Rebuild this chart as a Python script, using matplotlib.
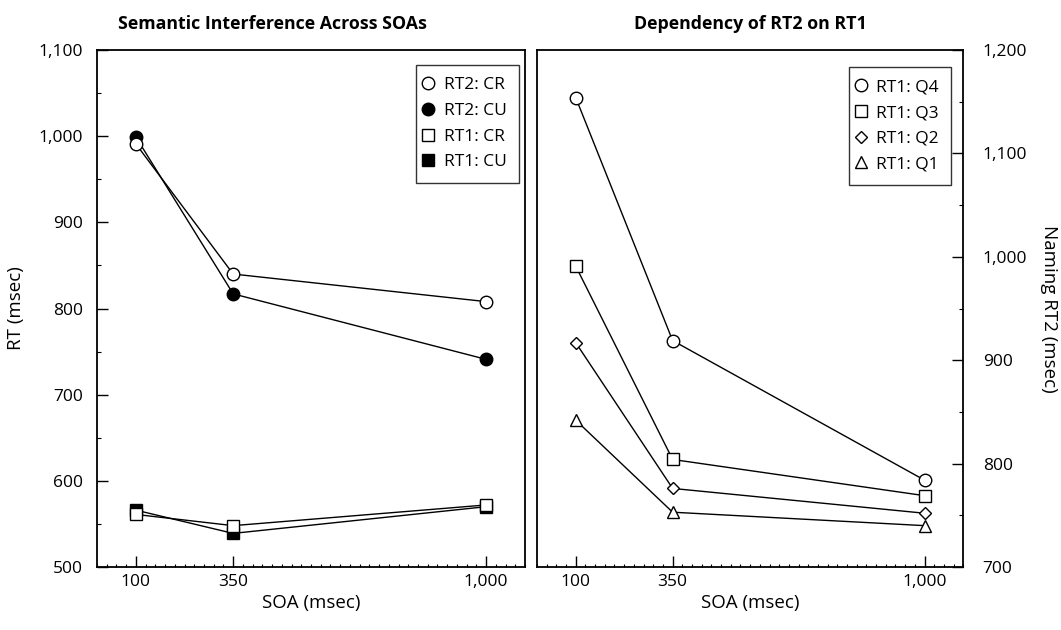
import matplotlib
matplotlib.use("Agg")
import matplotlib.pyplot as plt
from matplotlib.ticker import MultipleLocator, FuncFormatter

plt.rcParams['font.family'] = ['Open Sans', 'DejaVu Sans']

soa = [100, 350, 1000]

# left panel
rt2_cr = [991, 840, 808]
rt2_cu = [999, 817, 741]
rt1_cr = [561, 548, 572]
rt1_cu = [566, 539, 570]

# right panel
q4 = [1154, 919, 784]
q3 = [991, 804, 769]
q2 = [917, 776, 752]
q1 = [842, 753, 740]

comma = FuncFormatter(lambda v, p: f"{int(v):,}")

fig = plt.figure(figsize=(10.61, 6.3), dpi=100)
ax1 = fig.add_axes([0.0914, 0.1, 0.4034, 0.8206])
ax2 = fig.add_axes([0.5061, 0.1, 0.4018, 0.8206])

ms = 9
lw = 1.0
kw = dict(color='black', lw=lw, ms=ms, mec='black', mew=1.0)

ax1.plot(soa, rt2_cr, marker='o', mfc='white', label='RT2: CR', zorder=4, **kw)
ax1.plot(soa, rt2_cu, marker='o', mfc='black', label='RT2: CU', zorder=3, **kw)
ax1.plot(soa, rt1_cu, marker='s', mfc='black', label='RT1: CU', zorder=3, ms=8, color='black', lw=lw, mec='black')
ax1.plot(soa, rt1_cr, marker='s', mfc='white', label='RT1: CR', zorder=4, ms=8, color='black', lw=lw, mec='black')

ax2.plot(soa, q4, marker='o', mfc='white', label='RT1: Q4', **kw)
ax2.plot(soa, q3, marker='s', mfc='white', label='RT1: Q3', color='black', lw=lw, ms=8, mec='black')
ax2.plot(soa, q2, marker='D', mfc='white', label='RT1: Q2', color='black', lw=lw, ms=6.5, mec='black')
ax2.plot(soa, q1, marker='^', mfc='white', label='RT1: Q1', color='black', lw=lw, ms=9, mec='black')

for ax in (ax1, ax2):
    ax.set_xlim(0, 1100)
    ax.set_xticks(soa)
    ax.xaxis.set_major_formatter(comma)
    ax.xaxis.set_minor_locator(MultipleLocator(25))
    ax.yaxis.set_major_formatter(comma)
    ax.yaxis.set_minor_locator(MultipleLocator(50))
    ax.tick_params(which='major', direction='in', length=8, width=1, labelsize=12.5)
    ax.tick_params(which='minor', direction='in', length=3, width=0.8)
    ax.tick_params(axis='x', which='minor', length=2)
    ax.tick_params(axis='x', which='major', pad=5)
    ax.set_xlabel('SOA (msec)', fontsize=13.5, labelpad=3)
    for s in ax.spines.values():
        s.set_linewidth(1.3)

ax1.tick_params(axis='y', which='major', pad=10)
ax2.tick_params(axis='y', which='major', pad=14)

ax1.set_ylim(500, 1100)
ax1.set_yticks(range(500, 1101, 100))
ax1.set_ylabel('RT (msec)', fontsize=13.5, labelpad=10)
fig.text(272 / 1061, 1 - 24 / 630, 'Semantic Interference Across SOAs', fontsize=12.8,
         fontweight='bold', ha='center', va='center')

ax2.set_ylim(700, 1200)
ax2.set_yticks(range(700, 1201, 100))
ax2.yaxis.tick_right()
ax2.yaxis.set_label_position('right')
ax2.set_ylabel('Naming RT2 (msec)', fontsize=13.5, rotation=270, labelpad=22)
fig.text(750 / 1061, 1 - 24 / 630, 'Dependency of RT2 on RT1', fontsize=12.8,
         fontweight='bold', ha='center', va='center')

h, l = ax1.get_legend_handles_labels()
order = [0, 1, 3, 2]
legs = ((ax1, [h[i] for i in order], [l[i] for i in order], (1 - 6 / 428, 1 - 15 / 517)),
        (ax2,) + tuple(ax2.get_legend_handles_labels()) + ((1 - 12 / 426, 1 - 17 / 517),))
for ax, hh, ll, anchor in legs:
    leg = ax.legend(hh, ll, loc='upper right', fontsize=12.5, frameon=True, fancybox=False,
                    edgecolor='black', handlelength=0, handletextpad=0.9,
                    borderpad=0.7, labelspacing=0.55, borderaxespad=0,
                    bbox_to_anchor=anchor)
    leg.get_frame().set_linewidth(1.0)
    for ln in leg.get_lines():
        ln.set_linestyle('none')

fig.savefig('out.png', dpi=100)
